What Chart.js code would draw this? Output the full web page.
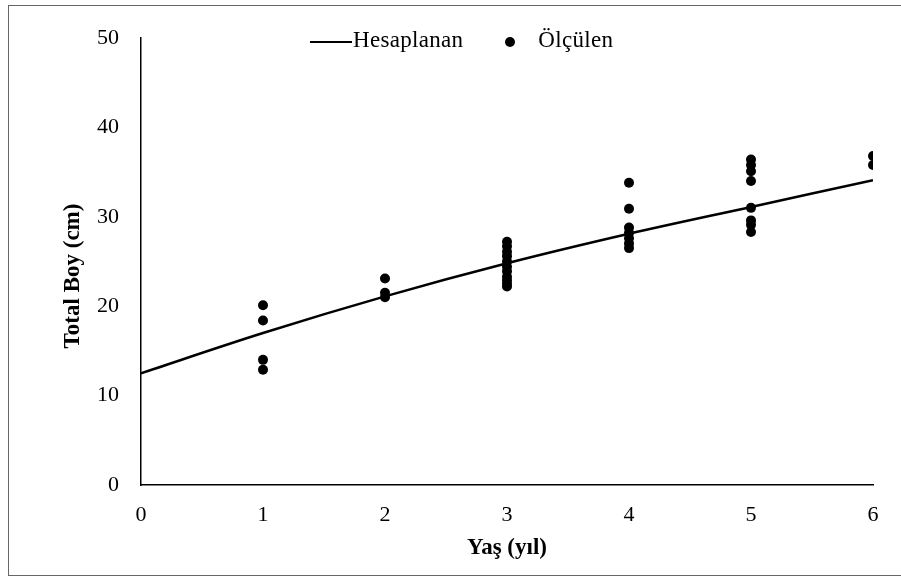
<!DOCTYPE html>
<html>
<head>
<meta charset="utf-8">
<script src="https://cdn.jsdelivr.net/npm/chart.js@4"></script>
<style>
  body { margin: 0; background: #fff; }
  #wrap { position: relative; width: 901px; height: 582px; }
  #frame { position: absolute; left: 8px; top: 5px; width: 900px; height: 571px; border: 1px solid #666; box-sizing: border-box; pointer-events: none; }
  #legend { position: absolute; top: 27px; left: 310px; font-family: 'Liberation Serif', 'Times New Roman', serif; font-size: 23px; letter-spacing: 0.3px; color: #000; white-space: nowrap; }
  #legend .ln { display: inline-block; width: 42px; height: 0; border-top: 2.5px solid #000; vertical-align: middle; margin-right: 1px; }
  #legend .dot { display: inline-block; width: 10px; height: 10px; border-radius: 50%; background: #000; vertical-align: middle; margin: 0 23px 0 42px; }
</style>
</head>
<body>
<div id="wrap">
  <canvas id="chart" width="901" height="582"></canvas>
  <div id="frame"></div>
  <div id="legend"><span class="ln"></span>Hesaplanan<span class="dot"></span>Ölçülen</div>
</div>
<script>
// Hesaplanan (model) eğrisi
const yasHesap = [0, 1, 2, 3, 4, 5, 6];
const boyHesap = [12.5, 17.0, 21.1, 24.8, 28.1, 31.1, 34.1];

// Ölçülen değerler
const yasOlcum = [1, 1, 1, 1,
  2, 2, 2,
  3, 3, 3, 3, 3, 3, 3, 3, 3, 3, 3,
  4, 4, 4, 4, 4, 4, 4,
  5, 5, 5, 5, 5, 5, 5, 5,
  6, 6];
const boyOlcum = [20.1, 18.4, 14.0, 12.9,
  23.1, 21.5, 21.0,
  27.2, 26.7, 26.1, 25.6, 25.0, 24.4, 23.9, 23.3, 22.9, 22.5, 22.2,
  33.8, 30.9, 28.8, 28.2, 27.6, 27.0, 26.5,
  36.4, 35.8, 35.1, 34.0, 31.0, 29.6, 29.1, 28.3,
  36.8, 35.8];

const xTicks = [0, 1, 2, 3, 4, 5, 6];
const yTicks = [0, 10, 20, 30, 40, 50];

const FONT = "'Liberation Serif', 'Times New Roman', serif";

// Y ekseni başlığı (Excel'deki gibi biraz aşağıda)
const yTitlePlugin = {
  id: 'yTitle',
  afterDraw(chart) {
    const c = chart.ctx;
    c.save();
    c.translate(73, 276);
    c.rotate(-Math.PI / 2);
    c.font = 'bold 23px ' + FONT;
    c.fillStyle = '#000';
    c.textAlign = 'center';
    c.textBaseline = 'middle';
    c.fillText('Total Boy (cm)', 0, 0);
    c.restore();
  }
};

const ctx = document.getElementById('chart').getContext('2d');
new Chart(ctx, {
  type: 'scatter',
  data: {
    datasets: [
      {
        type: 'line',
        label: 'Hesaplanan',
        data: yasHesap.map((x, i) => ({ x: x, y: boyHesap[i] })),
        borderColor: '#000',
        borderWidth: 2.5,
        pointRadius: 0,
        fill: false,
        cubicInterpolationMode: 'monotone'
      },
      {
        label: 'Ölçülen',
        data: yasOlcum.map((x, i) => ({ x: x, y: boyOlcum[i] })),
        backgroundColor: '#000',
        borderColor: '#000',
        pointRadius: 5,
        pointBorderWidth: 0
      }
    ]
  },
  options: {
    responsive: false,
    animation: false,
    layout: { padding: { left: 0, top: 38, right: 28, bottom: 0 } },
    plugins: { legend: { display: false }, tooltip: { enabled: false } },
    scales: {
      x: {
        type: 'linear',
        min: 0, max: 6,
        afterBuildTicks: s => { s.ticks = xTicks.map(v => ({ value: v })); },
        afterFit: s => { s.height = 97; },
        grid: { display: false, drawTicks: false },
        border: { display: true, color: '#000', width: 1.5 },
        ticks: { color: '#000', font: { family: FONT, size: 22 }, padding: 17, maxRotation: 0 },
        title: { display: true, text: 'Yaş (yıl)', color: '#000', font: { family: FONT, size: 23, weight: 'bold' }, padding: { top: 0, bottom: 20 } }
      },
      y: {
        min: 0, max: 50,
        afterBuildTicks: s => { s.ticks = yTicks.map(v => ({ value: v })); },
        afterFit: s => { s.width = 141; },
        grid: { display: false, drawTicks: false },
        border: { display: true, color: '#000', width: 1.5 },
        ticks: { color: '#000', font: { family: FONT, size: 22 }, padding: 22 }
      }
    }
  },
  plugins: [yTitlePlugin]
});
</script>
</body>
</html>
